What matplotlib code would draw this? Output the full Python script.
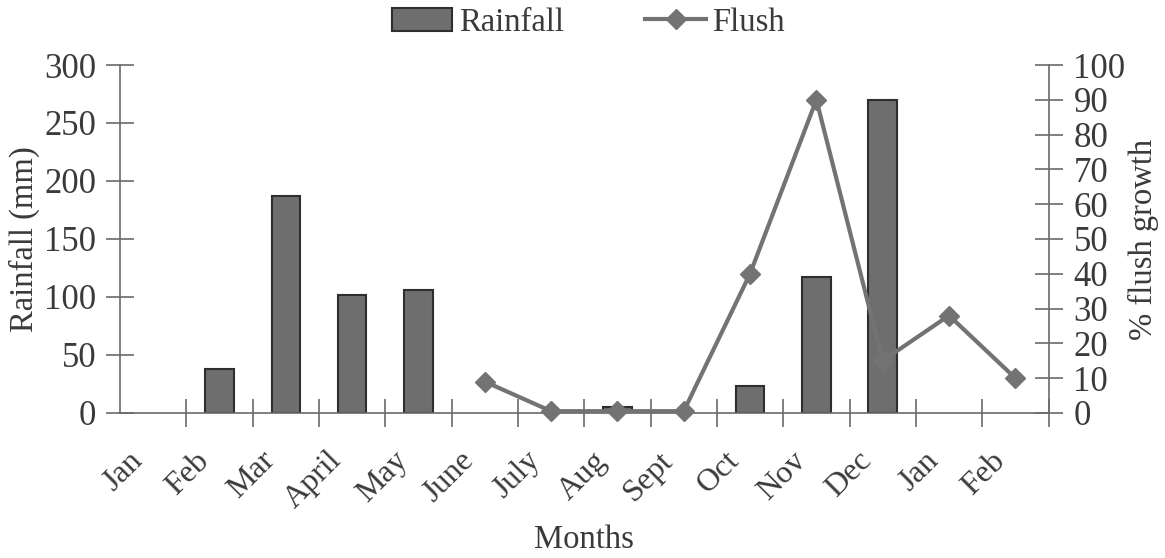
import matplotlib.pyplot as plt
import matplotlib.transforms as mtransforms
from matplotlib.lines import Line2D
from matplotlib.patches import Patch

months = ["Jan", "Feb", "Mar", "April", "May", "June", "July", "Aug",
          "Sept", "Oct", "Nov", "Dec", "Jan", "Feb"]
# rainfall in mm, 0 where no bar is drawn
rainfall = [0, 38, 187, 102, 106, 0, 0, 5, 0, 23, 117, 270, 0, 0]
# flush growth only recorded from June onwards
flush_months = ["June", "July", "Aug", "Sept", "Oct", "Nov", "Dec", "Jan", "Feb"]
flush = [9, 0.5, 0.5, 0.5, 40, 90, 15, 28, 10]

plt.rcParams["font.family"] = ["Liberation Serif", "DejaVu Serif"]
txt = "#3a3a3a"
axc = "#6a6a6a"
barc = "#6e6e6e"
linec = "#737373"

fig = plt.figure(figsize=(11.65, 5.58), dpi=100)
ax = fig.add_axes([0.103, 0.26, 0.797, 0.6235])
ax2 = ax.twinx()

x = list(range(len(months)))
bx = [i for i in x if rainfall[i] > 0]
by = [rainfall[i] for i in bx]
ax.bar(bx, by, width=0.43, color=barc, edgecolor="#2e2e2e", linewidth=1.5, zorder=2)

fx = [x[5 + i] for i in range(len(flush_months))]
ax2.plot(fx, flush, color=linec, lw=3, marker="D", ms=10, mfc=linec, mec=linec,
         zorder=3, clip_on=False)

ax.set_xlim(-0.5, len(months) - 0.5)
ax.set_ylim(0, 300)
ax2.set_ylim(0, 100)

for a in (ax, ax2):
    for s in a.spines.values():
        s.set_visible(False)
ax.spines["left"].set_visible(True)
ax.spines["bottom"].set_visible(True)
ax2.spines["right"].set_visible(True)
for s in (ax.spines["left"], ax.spines["bottom"], ax2.spines["right"]):
    s.set_color(axc)
    s.set_linewidth(1.2)

ax.set_yticks(range(0, 301, 50))
ax2.set_yticks(range(0, 101, 10))
ax.tick_params(axis="y", direction="inout", length=20, width=1.2, color=axc,
               labelsize=25, labelcolor=txt, pad=7)
ax2.tick_params(axis="y", direction="inout", length=20, width=1.2, color=axc,
                labelsize=25, labelcolor=txt, pad=8)

# boundary ticks between months, labels near the centres
ax.set_xticks([i + 0.5 for i in x])
ax.set_xticklabels([])
ax.tick_params(axis="x", direction="inout", length=20, width=1.2, color=axc)
lab_tr = ax.get_xaxis_transform() + mtransforms.ScaledTranslation(-0.15, 0, fig.dpi_scale_trans)
for i, m in enumerate(months):
    ax.text(i, -0.125, m, transform=lab_tr, rotation=45, rotation_mode="anchor",
            ha="right", va="center", fontsize=23, color=txt)

ax.set_ylabel("Rainfall (mm)", fontsize=23.5, color=txt, labelpad=3)
ax2.set_ylabel("% flush growth", fontsize=23.5, color=txt, labelpad=2)
ax.text(0.5, -0.365, "Months", transform=ax.transAxes, ha="center", va="center",
        fontsize=23.5, color=txt)

handles = [Patch(facecolor=barc, edgecolor="#2e2e2e", linewidth=1.5),
           Line2D([], [], color=linec, lw=3, marker="D", ms=10)]
fig.legend(handles, ["Rainfall", "Flush"], loc="center", bbox_to_anchor=(0.505, 0.96),
           ncol=2, frameon=False, fontsize=23.5, labelcolor=txt, handlelength=1.85,
           handletextpad=0.2, columnspacing=2.5)

fig.savefig("out.png", dpi=100)
